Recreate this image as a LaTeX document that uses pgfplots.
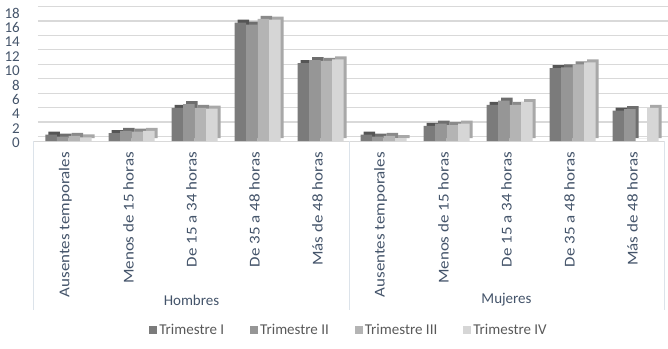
\documentclass[border=0pt]{standalone}
\usepackage{pgfplots}
\usepackage{pgfplotstable}
\pgfplotsset{compat=1.18}
\usepackage{fontspec}
\setmainfont{Carlito}
\definecolor{tA}{HTML}{7B7B7B}
\definecolor{tB}{HTML}{969696}
\definecolor{tC}{HTML}{B4B4B4}
\definecolor{tD}{HTML}{D6D6D6}
\definecolor{tAd}{HTML}{555555}
\definecolor{tBd}{HTML}{6E6E6E}
\definecolor{tCd}{HTML}{8A8A8A}
\definecolor{tDd}{HTML}{A8A8A8}
\definecolor{gridc}{HTML}{D9D9D9}
\definecolor{sepc}{HTML}{DCE3EA}
\definecolor{labc}{HTML}{44546A}
\definecolor{legc}{HTML}{595959}
\pgfplotstableread{
x T1 T2 T3 T4
0 0.9 0.6 0.7 0.5
1 1.1 1.4 1.3 1.4
2 4.6 5.1 4.6 4.5
3 16.4 16.1 16.9 16.8
4 10.8 11.2 11.1 11.3
5 0.9 0.6 0.7 0.4
6 2.1 2.4 2.2 2.4
7 5.0 5.6 5.0 5.4
8 10.1 10.2 10.6 10.9
9 4.2 4.4 0.0 4.6
}\datatable
\begin{document}
\begin{tikzpicture}
\path[use as bounding box] (-34pt,-207pt) rectangle (634pt,141pt);
\begin{axis}[
  at={(0pt,0pt)}, anchor=south west,
  width=630pt, height=130pt, scale only axis,
  xmin=-0.5, xmax=9.5, ymin=0, ymax=18,
  enlarge x limits=false,
  ytick={0,2,...,18},
  ymajorgrids, grid style={draw=gridc, line width=1.2pt, xshift=4pt, yshift=4.5pt},
  xtick={0,...,9},
  xticklabels={Ausentes temporales, Menos de 15 horas, De 15 a 34 horas, De 35 a  48 horas, Más de 48 horas, Ausentes temporales, Menos de 15 horas, De 15 a 34 horas, De 35 a  48 horas, Más de 48 horas},
  axis x line*=bottom, axis y line*=left,
  x axis line style={draw=gridc, line width=1pt, -},
  y axis line style={draw=none},
  major tick length=0pt,
  /pgf/number format/assume math mode=true,
  tick label style={font=\fontsize{15}{18}\selectfont, text=labc},
  xticklabel style={rotate=90, xscale=1.13, anchor=east, inner sep=0pt},
  xticklabel shift=11pt,
  yticklabel style={inner sep=0pt, yshift=-2pt},
  yticklabel shift=14pt,
  ybar, bar width=11.5pt,
  clip=false,
  legend style={at={(0.5,0)}, anchor=center, yshift=-189pt, draw=none, fill=none,
    font=\fontsize{15}{18}\selectfont, text=legc, legend columns=4,
    /tikz/every even column/.append style={column sep=24pt}},
  legend image code/.code={\fill[#1] (0pt,-4pt) rectangle (8pt,4pt);},
]
% depth (side/top faces)
\addplot[fill=tAd, draw=none, bar shift=-14.25pt, xshift=3pt, yshift=3pt, forget plot] table[x=x,y=T1]{\datatable};
\addplot[fill=tBd, draw=none, bar shift=-2.75pt, xshift=3pt, yshift=3pt, forget plot] table[x=x,y=T2]{\datatable};
\addplot[fill=tCd, draw=none, bar shift=8.75pt, xshift=3pt, yshift=3pt, forget plot] table[x=x,y=T3]{\datatable};
\addplot[fill=tDd, draw=none, bar shift=20.25pt, xshift=3pt, yshift=3pt, forget plot] table[x=x,y=T4]{\datatable};
% front faces
\addplot[fill=tA, draw=none, bar shift=-14.25pt] table[x=x,y=T1]{\datatable};
\addlegendentry{Trimestre I}
\addplot[fill=tB, draw=none, bar shift=-2.75pt] table[x=x,y=T2]{\datatable};
\addlegendentry{Trimestre II}
\addplot[fill=tC, draw=none, bar shift=8.75pt] table[x=x,y=T3]{\datatable};
\addlegendentry{Trimestre III}
\addplot[fill=tD, draw=none, bar shift=20.25pt] table[x=x,y=T4]{\datatable};
\addlegendentry{Trimestre IV}
\draw[sepc, line width=1pt] (axis cs:-0.5,0) -- ++(0pt,-169pt);
\draw[sepc, line width=1pt] (axis cs:4.5,0) -- ++(0pt,-169pt);
\draw[sepc, line width=1pt] (axis cs:9.5,0) -- ++(0pt,-169pt);
\node[font=\fontsize{15}{18}\selectfont, text=labc] at (axis cs:2,0) [yshift=-159pt] {Hombres};
\node[font=\fontsize{15}{18}\selectfont, text=labc] at (axis cs:7,0) [yshift=-159pt] {Mujeres};
\end{axis}
\end{tikzpicture}
\end{document}
